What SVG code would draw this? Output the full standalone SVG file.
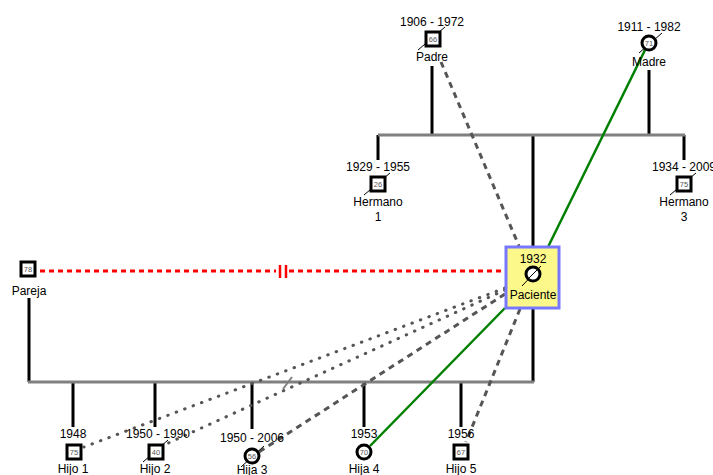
<svg xmlns="http://www.w3.org/2000/svg" width="713" height="475" viewBox="0 0 713 475">
<style>
text{font-family:"Liberation Sans",Arial,sans-serif;font-size:12px;fill:#000;text-anchor:middle}
.age{font-size:7.5px;fill:#555}
.sq{fill:#fff;stroke:#000;stroke-width:3}
.ci{fill:#fff;stroke:#000;stroke-width:3}
.sl{stroke:#000;stroke-width:1}
.v{stroke:#000;stroke-width:3;fill:none}
.h{stroke:#808080;stroke-width:3;fill:none}
.dash{stroke:#555;stroke-width:3;stroke-dasharray:6 5;fill:none}
.dot{stroke:#555;stroke-width:3;stroke-dasharray:0.5 8.5;stroke-linecap:round;fill:none}
.green{stroke:#008000;stroke-width:2.5;fill:none}
.red{stroke:#f00;stroke-width:3;stroke-dasharray:5 4;fill:none}
</style>
<g id="connectors">
<line class="v" x1="432" y1="66" x2="432" y2="135"/>
<line class="v" x1="649" y1="70" x2="649" y2="135"/>
<line class="v" x1="378" y1="135" x2="378" y2="160"/>
<line class="v" x1="684" y1="135" x2="684" y2="160"/>
<line class="v" x1="533" y1="135" x2="533" y2="247"/>
<line class="h" x1="378" y1="135" x2="685" y2="135"/>
<line class="v" x1="533" y1="308" x2="533" y2="382"/>
<line class="v" x1="29" y1="298" x2="29" y2="382"/>
<line class="v" x1="73" y1="382" x2="73" y2="427"/>
<line class="v" x1="155" y1="382" x2="155" y2="427"/>
<line class="v" x1="252" y1="382" x2="252" y2="429"/>
<line class="v" x1="364" y1="382" x2="364" y2="427"/>
<line class="v" x1="461" y1="382" x2="461" y2="427"/>
<line class="h" x1="28" y1="382" x2="534" y2="382"/>
<line stroke="#808080" stroke-width="2" x1="283" y1="389" x2="292" y2="377"/>
<line class="red" x1="40" y1="271" x2="276" y2="271"/>
<line class="red" x1="289" y1="271" x2="505" y2="271"/>
<line stroke="#f00" stroke-width="2.5" x1="280" y1="265" x2="280" y2="278"/>
<line stroke="#f00" stroke-width="2.5" x1="286" y1="265" x2="286" y2="278"/>
<line class="dash" x1="441" y1="62" x2="519" y2="246"/>
<line class="green" x1="646" y1="48" x2="548" y2="247"/>
<line class="green" x1="505" y1="308" x2="370" y2="446"/>
<line class="dot" x1="505" y1="288" x2="84" y2="447"/>
<line class="dot" x1="505" y1="290" x2="164" y2="445"/>
<line class="dash" x1="505" y1="294" x2="259" y2="452"/>
<line class="dash" x1="520" y1="309" x2="466" y2="442"/>
</g>
<g id="padre">
<text x="432" y="26">1906 - 1972</text>
<line class="sl" x1="418" y1="50" x2="445" y2="27"/>
<rect class="sq" x="426" y="32" width="14" height="14"/>
<text class="age" x="433" y="42">66</text>
<text x="432" y="61">Padre</text>
</g>
<g id="madre">
<text x="649" y="31">1911 - 1982</text>
<line class="sl" x1="639" y1="53" x2="662" y2="33"/>
<circle class="ci" cx="649" cy="43" r="7"/>
<text class="age" x="649" y="46">71</text>
<text x="649" y="66">Madre</text>
</g>
<g id="hermano1">
<text x="378" y="171">1929 - 1955</text>
<line class="sl" x1="364" y1="195" x2="390" y2="173"/>
<rect class="sq" x="371" y="177" width="14" height="14"/>
<text class="age" x="378" y="187">26</text>
<text x="378" y="206">Hermano</text>
<text x="378" y="221">1</text>
</g>
<g id="hermano3">
<text x="684" y="171">1934 - 2009</text>
<line class="sl" x1="670" y1="195" x2="696" y2="173"/>
<rect class="sq" x="677" y="177" width="14" height="14"/>
<text class="age" x="684" y="187">75</text>
<text x="684" y="206">Hermano</text>
<text x="684" y="221">3</text>
</g>
<g id="paciente">
<rect x="506" y="247" width="53" height="61" fill="#fcf98a" stroke="#7878ff" stroke-width="3"/>
<text x="533" y="263">1932</text>
<line class="sl" x1="522" y1="286" x2="541" y2="266"/>
<circle class="ci" cx="533" cy="274" r="7"/>
<line stroke="#000" stroke-width="1" x1="528" y1="279" x2="538" y2="269"/>
<text x="533" y="299">Paciente</text>
</g>
<g id="pareja">
<rect class="sq" x="21" y="262" width="14" height="14"/>
<text class="age" x="28" y="272">78</text>
<text x="29" y="295">Pareja</text>
</g>
<g id="hijo1">
<text x="73" y="438">1948</text>
<rect class="sq" x="67" y="445" width="14" height="14"/>
<text class="age" x="74" y="455">75</text>
<text x="73" y="473">Hijo 1</text>
</g>
<g id="hijo2">
<text x="158" y="438">1950 - 1990</text>
<line class="sl" x1="143" y1="462" x2="168" y2="440"/>
<rect class="sq" x="149" y="445" width="14" height="14"/>
<text class="age" x="156" y="455">40</text>
<text x="155" y="473">Hijo 2</text>
</g>
<g id="hija3">
<text x="252" y="442">1950 - 2006</text>
<line class="sl" x1="241" y1="467" x2="264" y2="446"/>
<circle class="ci" cx="252" cy="456" r="7"/>
<text class="age" x="252" y="459">56</text>
<text x="252" y="474">Hija 3</text>
</g>
<g id="hija4">
<text x="364" y="438">1953</text>
<circle class="ci" cx="364" cy="452" r="7"/>
<text class="age" x="364" y="455">70</text>
<text x="364" y="473">Hija 4</text>
</g>
<g id="hijo5">
<text x="461" y="438">1956</text>
<rect class="sq" x="454" y="445" width="14" height="14"/>
<text class="age" x="461" y="455">67</text>
<text x="461" y="473">Hijo 5</text>
</g>
</svg>
